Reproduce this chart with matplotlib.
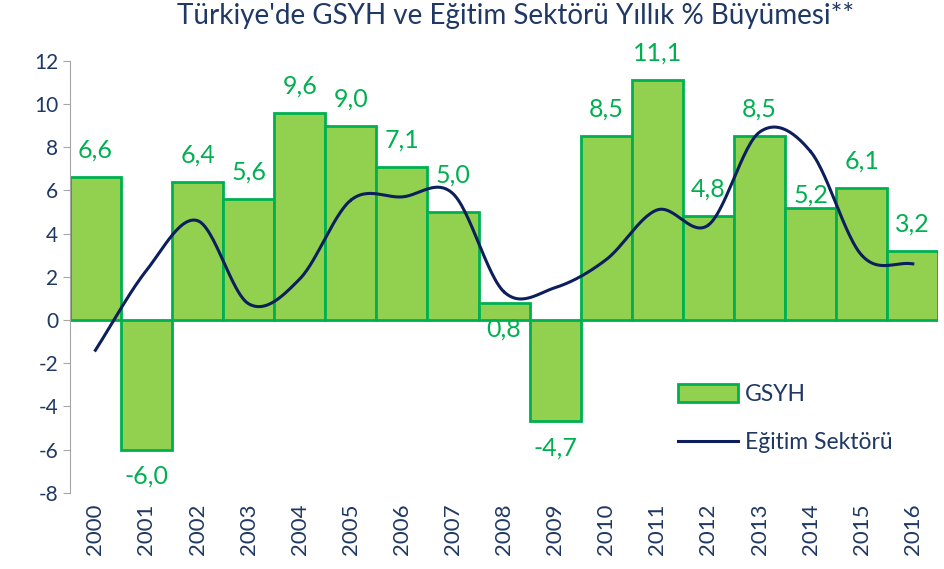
import numpy as np
import matplotlib.pyplot as plt
from matplotlib.patches import Patch
from matplotlib.lines import Line2D

years = [str(y) for y in range(2000, 2017)]
gsyh = [6.6, -6.0, 6.4, 5.6, 9.6, 9.0, 7.1, 5.0, 0.8, -4.7, 8.5, 11.1, 4.8, 8.5, 5.2, 6.1, 3.2]
egitim = [-1.4, 2.3, 4.6, 0.75, 1.9, 5.55, 5.7, 5.85, 1.3, 1.5, 2.8, 5.1, 4.4, 8.7, 7.8, 3.0, 2.6]
labels = ["6,6", "-6,0", "6,4", "5,6", "9,6", "9,0", "7,1", "5,0", "0,8", "-4,7",
          "8,5", "11,1", "4,8", "8,5", "5,2", "6,1", "3,2"]

# label offsets (pixels) that differ from the default
label_shift = {"5,0": 37, "5,2": 13, "0,8": -26}

navy = "#1F3864"
line_col = "#0C1F5C"
bar_face = "#92D050"
bar_edge = "#00B050"

plt.rcParams['font.family'] = ['Lato', 'DejaVu Sans']
plt.rcParams['axes.unicode_minus'] = False


def smooth(xs, ys, n=30):
    # catmull-rom style curve like excel's smoothed line
    xs = np.asarray(xs, float)
    ys = np.asarray(ys, float)
    px = np.concatenate([[2 * xs[0] - xs[1]], xs, [2 * xs[-1] - xs[-2]]])
    py = np.concatenate([[2 * ys[0] - ys[1]], ys, [2 * ys[-1] - ys[-2]]])
    outx, outy = [], []
    for i in range(1, len(px) - 2):
        t = np.linspace(0, 1, n)
        for arr, out in ((px, outx), (py, outy)):
            p0, p1, p2, p3 = arr[i - 1], arr[i], arr[i + 1], arr[i + 2]
            out.extend(0.5 * ((2 * p1) + (-p0 + p2) * t
                              + (2 * p0 - 5 * p1 + 4 * p2 - p3) * t ** 2
                              + (-p0 + 3 * p1 - 3 * p2 + p3) * t ** 3))
    return np.array(outx), np.array(outy)


fig = plt.figure(figsize=(9.44, 5.69), dpi=100)
ax = fig.add_axes([0.074, 0.134, 0.92, 0.759])

x = np.arange(len(years))
ax.bar(x, gsyh, width=1.0, color=bar_face, edgecolor=bar_edge, linewidth=2, zorder=2)
sx, sy = smooth(x, egitim)
ax.plot(sx, sy, color=line_col, linewidth=2.2, zorder=3)

for i, (v, lab) in enumerate(zip(gsyh, labels)):
    off = label_shift.get(lab, 27 if v >= 0 else -27)
    ax.annotate(lab, (i, v), xytext=(0, off), textcoords="offset pixels",
                ha="center", va="center", color=bar_edge, fontsize=18, zorder=4)

ax.set_xlim(-0.5, len(years) - 0.5)
ax.set_ylim(-8, 12)
ax.set_yticks(range(-8, 13, 2))
ax.set_xticks(x)
ax.set_xticklabels(years, rotation=90)
ax.tick_params(axis="x", length=0, labelsize=16, labelcolor=navy, pad=8)
ax.tick_params(axis="y", length=5, color="#A6A6A6", labelsize=15, labelcolor=navy)
ax.axhline(0, color="#A6A6A6", linewidth=1, zorder=1)

for s in ["top", "right", "bottom"]:
    ax.spines[s].set_visible(False)
ax.spines["left"].set_color("#A6A6A6")

handles = [Patch(facecolor=bar_face, edgecolor=bar_edge, linewidth=2),
           Line2D([0], [0], color=line_col, linewidth=2.2)]
ax.legend(handles, ["GSYH", "Eğitim Sektörü"], loc="upper left",
          bbox_to_anchor=(0.677, 0.30), frameon=False, fontsize=16.5,
          labelcolor=navy, handlelength=2.6, handleheight=0.8,
          labelspacing=1.2, handletextpad=0.3)

fig.suptitle("Türkiye'de GSYH ve Eğitim Sektörü Yıllık % Büyümesi**", x=0.546, y=0.997,
             fontsize=20, color=navy)

fig.savefig("out.png", dpi=100)
